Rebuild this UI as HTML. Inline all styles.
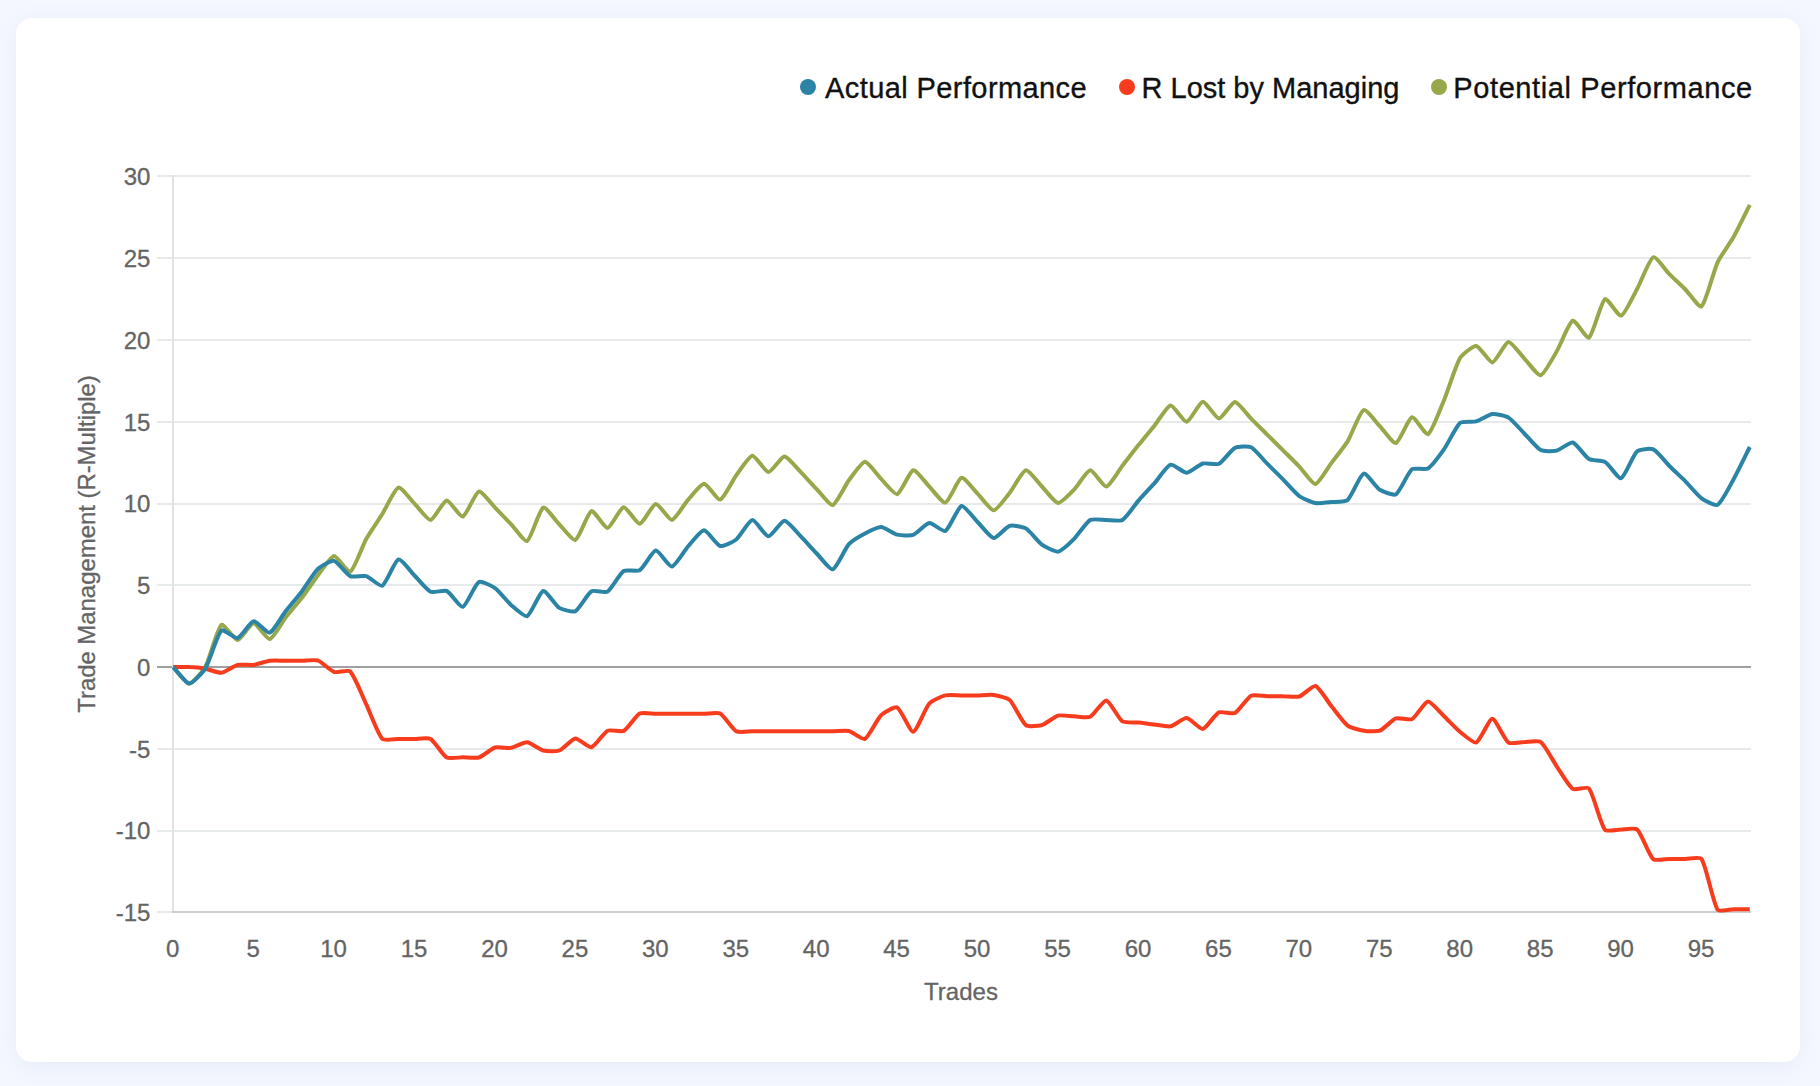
<!DOCTYPE html>
<html><head><meta charset="utf-8"><title>Trade Management</title>
<style>
html,body{margin:0;padding:0}
body{width:1820px;height:1086px;overflow:hidden;background:#f4f7fe;font-family:"Liberation Sans",sans-serif;position:relative}
.card{position:absolute;left:16px;top:18px;width:1784px;height:1044px;background:#fff;border-radius:16px;box-shadow:0 5px 22px rgba(115,130,185,0.09)}
svg{position:absolute;left:0;top:0}
.tick text{font-size:24px;fill:#646464;stroke:#646464;stroke-width:0.3px}
.legend{position:absolute;top:68px;height:40px;line-height:40px;font-size:29px;color:#111;-webkit-text-stroke:0.35px #111;white-space:nowrap}
.dot{position:absolute;top:79px;width:16px;height:16px;border-radius:50%}
</style></head><body>
<div class="card"></div>
<span class="dot" style="left:800px;background:#2b83a6"></span>
<span class="legend" id="l1" style="left:825px;letter-spacing:0.41px">Actual Performance</span>
<span class="dot" style="left:1119px;background:#f63c1c"></span>
<span class="legend" id="l2" style="left:1141.5px;letter-spacing:0px">R Lost by Managing</span>
<span class="dot" style="left:1431px;background:#97a84a"></span>
<span class="legend" id="l3" style="left:1453.3px;letter-spacing:0.6px">Potential Performance</span>
<svg width="1820" height="1086" viewBox="0 0 1820 1086">
<g>
<rect x="157" y="175" width="1594" height="2" fill="#e6eaea"/><rect x="157" y="257" width="1594" height="2" fill="#e6eaea"/><rect x="157" y="339" width="1594" height="2" fill="#e6eaea"/><rect x="157" y="421" width="1594" height="2" fill="#e6eaea"/><rect x="157" y="503" width="1594" height="2" fill="#e6eaea"/><rect x="157" y="584" width="1594" height="2" fill="#e6eaea"/><rect x="157" y="666" width="1594" height="2" fill="#a0a0a0"/><rect x="157" y="748" width="1594" height="2" fill="#e6eaea"/><rect x="157" y="830" width="1594" height="2" fill="#e6eaea"/><rect x="157" y="911" width="1594" height="2" fill="#e6eaea"/>
<rect x="172" y="175" width="2" height="736" fill="#e2e2e2"/>
<rect x="172" y="911" width="1579" height="2" fill="#cbcfcf"/>
</g>
<g class="tick"><text x="150.4" y="185" text-anchor="end">30</text><text x="150.4" y="267" text-anchor="end">25</text><text x="150.4" y="349" text-anchor="end">20</text><text x="150.4" y="431" text-anchor="end">15</text><text x="150.4" y="512" text-anchor="end">10</text><text x="150.4" y="594" text-anchor="end">5</text><text x="150.4" y="676" text-anchor="end">0</text><text x="150.4" y="758" text-anchor="end">-5</text><text x="150.4" y="839" text-anchor="end">-10</text><text x="150.4" y="921" text-anchor="end">-15</text><text x="172.7" y="957" text-anchor="middle">0</text><text x="253.1" y="957" text-anchor="middle">5</text><text x="333.6" y="957" text-anchor="middle">10</text><text x="414.0" y="957" text-anchor="middle">15</text><text x="494.5" y="957" text-anchor="middle">20</text><text x="574.9" y="957" text-anchor="middle">25</text><text x="655.3" y="957" text-anchor="middle">30</text><text x="735.8" y="957" text-anchor="middle">35</text><text x="816.2" y="957" text-anchor="middle">40</text><text x="896.6" y="957" text-anchor="middle">45</text><text x="977.1" y="957" text-anchor="middle">50</text><text x="1057.5" y="957" text-anchor="middle">55</text><text x="1138.0" y="957" text-anchor="middle">60</text><text x="1218.4" y="957" text-anchor="middle">65</text><text x="1298.8" y="957" text-anchor="middle">70</text><text x="1379.3" y="957" text-anchor="middle">75</text><text x="1459.7" y="957" text-anchor="middle">80</text><text x="1540.2" y="957" text-anchor="middle">85</text><text x="1620.6" y="957" text-anchor="middle">90</text><text x="1701.0" y="957" text-anchor="middle">95</text>
<text x="961" y="1000" text-anchor="middle" id="xt">Trades</text>
<text transform="translate(95,544) rotate(-90)" text-anchor="middle" id="yt" style="letter-spacing:-0.06px">Trade Management (R-Multiple)</text>
</g>
<g fill="none" stroke-width="4" stroke-linejoin="round" stroke-linecap="butt">
<path d="M173.2 667.1C176.4 670.4 186.1 683.6 189.3 683.6C192.5 683.6 203.2 670.8 205.4 666.7C209.6 659.0 217.2 628.4 221.5 624.8C223.6 623.0 234.4 640.2 237.6 640.1C240.8 639.9 250.4 623.4 253.6 623.3C256.8 623.2 266.8 639.6 269.7 639.1C273.2 638.4 282.5 621.6 285.8 617.3C288.9 613.4 298.8 601.8 301.9 597.8C305.3 593.4 314.6 579.6 318.0 575.2C321.0 571.3 330.7 556.4 334.1 556.0C337.1 555.7 347.7 573.0 350.2 571.7C354.2 569.6 362.7 545.2 366.3 538.8C369.1 533.7 379.2 519.0 382.3 514.0C385.6 508.8 394.7 488.8 398.4 487.6C401.2 486.8 411.3 500.5 414.5 503.7C417.8 506.9 427.5 520.3 430.6 520.0C434.0 519.7 443.3 500.9 446.7 500.5C449.7 500.2 460.0 517.3 462.8 516.5C466.4 515.5 475.2 492.6 478.9 491.6C481.7 490.8 491.8 504.4 495.0 507.6C498.2 510.9 507.8 520.8 511.0 524.1C514.3 527.5 524.6 542.2 527.1 541.0C531.1 538.9 539.3 509.6 543.2 507.6C545.7 506.3 556.0 521.1 559.3 524.4C562.5 527.6 572.8 541.0 575.4 539.9C579.2 538.3 587.7 512.5 591.5 511.1C594.1 510.1 604.5 528.3 607.6 528.0C611.0 527.5 620.2 507.6 623.7 507.2C626.7 506.8 636.7 524.1 639.7 523.8C643.1 523.5 652.4 504.4 655.8 504.0C658.9 503.6 668.9 520.3 671.9 519.9C675.3 519.5 684.6 503.7 688.0 499.9C691.0 496.5 700.9 483.8 704.1 483.7C707.3 483.7 717.4 500.3 720.2 499.6C723.8 498.6 732.8 479.9 736.3 475.2C739.3 471.2 749.0 456.2 752.4 455.8C755.4 455.5 765.2 472.0 768.4 472.0C771.6 472.1 781.3 456.4 784.5 456.4C787.7 456.4 797.5 468.8 800.6 471.9C803.9 475.3 813.4 485.8 816.7 489.2C819.9 492.4 830.0 505.8 832.8 505.0C836.4 504.0 845.4 485.0 848.9 480.3C851.8 476.4 861.7 461.9 865.0 461.7C868.1 461.6 877.7 475.6 881.1 478.9C884.2 482.0 894.3 494.9 897.1 494.2C900.8 493.2 909.7 471.2 913.2 470.3C916.1 469.6 926.1 483.3 929.3 486.6C932.5 489.8 942.6 503.4 945.4 502.6C949.1 501.6 957.9 478.8 961.5 477.8C964.3 477.0 974.4 490.5 977.6 493.7C980.8 497.0 990.5 510.4 993.7 510.3C996.9 510.2 1006.8 496.4 1009.8 492.7C1013.2 488.4 1022.3 471.0 1025.9 470.3C1028.8 469.7 1038.7 483.2 1041.9 486.5C1045.2 489.8 1054.7 502.7 1058.0 503.0C1061.1 503.3 1071.2 492.6 1074.1 489.6C1077.6 486.0 1086.8 470.6 1090.2 470.3C1093.3 470.0 1103.3 487.0 1106.3 486.6C1109.7 486.1 1119.1 469.9 1122.4 465.7C1125.6 461.6 1135.2 449.2 1138.5 445.1C1141.6 441.2 1151.4 429.4 1154.6 425.5C1157.8 421.5 1167.2 405.9 1170.6 405.5C1173.7 405.2 1183.7 422.2 1186.7 421.8C1190.1 421.4 1199.4 402.1 1202.8 401.7C1205.9 401.4 1215.7 418.4 1218.9 418.5C1222.1 418.5 1231.8 401.9 1235.0 401.9C1238.2 402.0 1247.8 415.3 1251.1 418.6C1254.3 421.9 1264.0 431.4 1267.2 434.6C1270.4 437.8 1280.0 447.4 1283.3 450.6C1286.5 453.8 1296.2 463.4 1299.3 466.6C1302.6 470.0 1312.4 484.4 1315.4 484.0C1318.8 483.7 1328.3 467.1 1331.5 462.9C1334.8 458.6 1344.8 445.9 1347.6 441.4C1351.3 435.4 1359.8 411.8 1363.7 410.0C1366.2 408.8 1376.6 422.9 1379.8 426.1C1383.0 429.5 1393.1 443.8 1395.9 443.0C1399.5 442.0 1408.3 418.3 1412.0 417.3C1414.8 416.5 1425.6 435.5 1428.0 434.2C1432.0 432.0 1441.2 406.9 1444.1 399.9C1447.6 391.6 1455.8 365.3 1460.2 357.8C1462.2 354.5 1473.3 345.5 1476.3 345.9C1479.8 346.4 1489.4 362.7 1492.4 362.4C1495.8 361.9 1505.1 342.4 1508.5 342.0C1511.5 341.7 1521.3 355.5 1524.6 358.8C1527.8 362.1 1537.8 375.9 1540.7 375.2C1544.2 374.4 1553.8 356.3 1556.7 351.3C1560.3 345.4 1569.0 322.3 1572.8 320.7C1575.4 319.6 1586.6 339.2 1588.9 337.7C1593.0 334.9 1600.9 302.0 1605.0 299.1C1607.3 297.6 1618.4 316.6 1621.1 315.7C1624.8 314.6 1634.2 294.3 1637.2 288.8C1640.6 282.6 1649.4 259.0 1653.3 257.2C1655.8 256.0 1666.1 270.8 1669.4 274.1C1672.5 277.3 1682.3 286.3 1685.4 289.5C1688.7 292.8 1699.4 308.2 1701.5 306.4C1705.8 302.8 1713.7 270.8 1717.6 262.3C1720.1 256.8 1730.8 242.0 1733.7 236.8C1737.2 230.5 1746.6 211.2 1749.8 204.8" stroke="#97a84a"/>
<path d="M173.2 667.1C176.4 667.1 186.1 666.9 189.3 667.1C192.5 667.2 202.2 668.1 205.4 668.7C208.6 669.3 218.4 673.2 221.5 672.8C224.8 672.4 234.2 665.8 237.6 664.9C240.6 664.2 250.5 665.4 253.6 664.9C256.9 664.5 266.5 661.1 269.7 660.7C272.9 660.3 282.6 660.7 285.8 660.7C289.0 660.7 298.7 660.7 301.9 660.7C305.1 660.7 315.1 659.5 318.0 660.5C321.5 661.8 330.5 670.8 334.1 672.0C337.0 673.0 348.2 669.5 350.2 671.5C354.6 676.0 363.1 697.8 366.3 704.4C369.5 711.2 377.8 734.0 382.3 738.9C384.3 740.9 395.2 738.9 398.4 738.9C401.6 738.9 411.3 738.9 414.5 738.9C417.7 738.9 428.1 737.4 430.6 738.9C434.5 741.1 442.8 755.3 446.7 757.5C449.2 759.0 459.6 757.3 462.8 757.3C466.0 757.3 475.9 758.4 478.9 757.5C482.3 756.5 491.5 748.6 495.0 747.5C497.9 746.6 507.9 748.4 511.0 747.9C514.4 747.3 524.0 742.0 527.1 742.3C530.4 742.6 539.8 749.6 543.2 750.5C546.3 751.3 556.4 751.6 559.3 750.5C562.9 749.1 572.0 738.7 575.4 738.4C578.5 738.1 588.6 747.9 591.5 747.2C595.1 746.4 603.8 732.6 607.6 730.7C610.2 729.3 621.1 732.2 623.7 730.9C627.5 728.8 635.9 715.6 639.7 713.5C642.4 712.1 652.6 713.7 655.8 713.7C659.1 713.7 668.7 713.7 671.9 713.7C675.1 713.7 684.8 713.7 688.0 713.7C691.2 713.7 700.9 713.7 704.1 713.7C707.3 713.7 717.6 712.1 720.2 713.5C724.0 715.6 732.4 729.2 736.3 731.3C738.9 732.8 749.1 731.3 752.4 731.3C755.6 731.3 765.2 731.3 768.4 731.3C771.7 731.3 781.3 731.3 784.5 731.3C787.8 731.3 797.4 731.3 800.6 731.3C803.8 731.3 813.5 731.3 816.7 731.3C819.9 731.3 829.6 731.4 832.8 731.3C836.0 731.3 845.8 730.3 848.9 731.0C852.3 731.8 862.5 740.1 865.0 738.9C868.9 736.9 877.1 719.0 881.1 715.2C883.5 712.7 894.7 706.2 897.1 707.5C901.1 709.5 910.2 732.0 913.2 731.7C916.6 731.3 925.2 708.2 929.3 703.5C931.6 700.9 942.0 696.2 945.4 695.4C948.4 694.6 958.3 695.4 961.5 695.4C964.7 695.4 974.4 695.4 977.6 695.4C980.8 695.3 990.5 694.4 993.7 694.9C997.0 695.4 1007.4 697.9 1009.8 700.1C1013.9 704.0 1021.7 721.9 1025.9 725.1C1028.1 726.9 1039.0 726.0 1041.9 725.1C1045.4 724.1 1054.6 716.6 1058.0 715.6C1061.0 714.8 1070.9 716.2 1074.1 716.3C1077.3 716.4 1087.5 718.1 1090.2 716.8C1094.0 714.9 1103.3 700.0 1106.3 700.4C1109.7 700.9 1118.4 718.6 1122.4 721.4C1124.8 723.0 1135.3 722.2 1138.5 722.5C1141.7 722.8 1151.3 724.3 1154.6 724.6C1157.8 725.0 1167.6 726.9 1170.6 726.3C1174.0 725.6 1183.6 717.8 1186.7 718.1C1190.1 718.4 1199.9 729.4 1202.8 728.9C1206.3 728.3 1215.1 714.2 1218.9 712.4C1221.5 711.1 1232.4 714.4 1235.0 713.0C1238.8 711.0 1247.3 697.7 1251.1 695.7C1253.7 694.3 1263.9 696.1 1267.2 696.2C1270.4 696.2 1280.0 696.1 1283.3 696.2C1286.5 696.2 1296.4 697.4 1299.3 696.5C1302.8 695.4 1312.7 685.2 1315.4 686.0C1319.1 687.2 1328.3 702.3 1331.5 706.3C1334.7 710.2 1343.8 722.7 1347.6 725.6C1350.2 727.6 1360.4 730.2 1363.7 730.7C1366.8 731.2 1376.9 731.8 1379.8 730.7C1383.4 729.3 1392.3 719.7 1395.9 718.4C1398.7 717.4 1409.4 720.4 1412.0 719.1C1415.8 717.0 1424.7 701.7 1428.0 701.4C1431.1 701.1 1441.0 713.3 1444.1 716.3C1447.4 719.4 1456.7 729.2 1460.2 732.0C1463.2 734.4 1473.7 743.5 1476.3 742.5C1480.2 740.9 1489.2 718.7 1492.4 718.8C1495.6 718.8 1504.4 739.7 1508.5 742.6C1510.8 744.3 1521.4 742.0 1524.6 742.0C1527.8 741.9 1538.4 740.2 1540.7 742.0C1544.8 745.1 1553.4 761.5 1556.7 766.3C1559.9 770.9 1568.8 786.1 1572.8 788.9C1575.2 790.5 1587.2 786.2 1588.9 788.4C1593.6 794.4 1600.3 823.8 1605.0 829.8C1606.7 832.0 1617.9 829.5 1621.1 829.5C1624.3 829.4 1635.1 827.6 1637.2 829.5C1641.5 833.5 1648.9 855.3 1653.3 859.2C1655.3 861.1 1666.1 859.0 1669.4 858.9C1672.6 858.9 1682.2 858.9 1685.4 858.9C1688.7 858.9 1700.0 856.6 1701.5 858.9C1706.5 866.7 1712.7 901.9 1717.6 909.6C1719.1 912.0 1730.5 909.3 1733.7 909.3C1736.9 909.3 1746.6 909.3 1749.8 909.3" stroke="#f63c1c"/>
<path d="M173.2 667.1C176.4 670.4 186.0 683.5 189.3 683.6C192.4 683.7 203.1 672.1 205.4 668.4C209.6 661.5 217.0 634.8 221.5 630.5C223.4 628.7 234.8 638.8 237.6 638.0C241.2 636.9 250.2 621.8 253.6 621.2C256.6 620.7 267.0 633.6 269.7 632.7C273.4 631.5 282.5 615.2 285.8 611.0C288.9 607.0 298.8 595.4 301.9 591.4C305.3 587.0 314.1 572.4 318.0 568.7C320.5 566.3 331.2 560.3 334.1 560.9C337.6 561.7 346.4 574.4 350.2 576.1C352.9 577.4 363.3 575.2 366.3 576.1C369.7 577.2 379.9 587.0 382.3 585.8C386.3 583.7 394.7 560.6 398.4 559.4C401.2 558.6 411.3 572.3 414.5 575.5C417.8 578.7 426.8 590.0 430.6 591.8C433.3 593.1 444.0 589.7 446.7 590.9C450.4 592.7 460.0 607.6 462.8 606.8C466.4 605.8 474.8 584.4 478.9 582.0C481.2 580.6 492.2 586.1 495.0 588.1C498.7 590.7 507.6 601.9 511.0 604.9C514.0 607.5 524.6 617.3 527.1 616.2C531.0 614.5 539.6 592.0 543.2 591.0C546.0 590.3 555.5 605.5 559.3 607.9C562.0 609.5 572.9 612.5 575.4 611.2C579.3 609.2 587.5 593.7 591.5 591.3C594.0 589.7 605.1 593.1 607.6 591.6C611.6 589.1 619.7 573.6 623.7 571.0C626.1 569.4 637.2 571.8 639.7 570.2C643.7 567.8 652.4 551.0 655.8 550.6C658.9 550.3 668.9 566.9 671.9 566.6C675.3 566.1 684.6 550.4 688.0 546.5C691.0 543.1 700.9 530.4 704.1 530.3C707.3 530.3 716.6 545.0 720.2 546.0C723.0 546.8 733.6 541.6 736.3 539.5C740.1 536.4 749.0 520.4 752.4 520.1C755.4 519.8 765.2 536.2 768.4 536.3C771.6 536.4 781.3 520.7 784.5 520.7C787.7 520.7 797.5 533.0 800.6 536.2C803.9 539.6 813.4 550.1 816.7 553.5C819.9 556.7 830.0 570.1 832.8 569.3C836.5 568.2 845.0 548.6 848.9 544.2C851.4 541.4 861.6 535.3 865.0 533.5C868.0 531.9 877.9 526.9 881.1 527.0C884.3 527.1 893.8 533.8 897.1 534.6C900.2 535.3 910.4 535.9 913.2 534.9C916.8 533.6 925.9 523.5 929.3 523.1C932.4 522.7 943.0 532.2 945.4 530.9C949.4 528.8 957.9 507.1 961.5 506.0C964.3 505.3 974.4 518.8 977.6 522.0C980.8 525.2 990.3 537.7 993.7 538.1C996.7 538.5 1006.2 526.8 1009.8 525.8C1012.6 524.9 1023.2 526.8 1025.9 528.4C1029.6 530.6 1038.3 541.9 1041.9 544.6C1044.7 546.6 1055.1 552.1 1058.0 551.6C1061.5 551.0 1071.2 541.7 1074.1 538.8C1077.6 535.4 1086.3 522.3 1090.2 520.0C1092.7 518.5 1103.1 519.9 1106.3 519.9C1109.5 519.9 1119.9 521.5 1122.4 520.0C1126.3 517.7 1135.2 504.4 1138.5 500.6C1141.6 497.0 1151.4 486.6 1154.6 483.1C1157.8 479.4 1166.9 465.9 1170.6 464.7C1173.4 463.9 1183.6 473.0 1186.7 472.8C1190.0 472.7 1199.4 464.5 1202.8 463.5C1205.8 462.7 1216.2 465.1 1218.9 463.8C1222.7 461.9 1231.2 449.8 1235.0 447.9C1237.7 446.5 1248.4 445.9 1251.1 447.2C1254.9 449.1 1263.9 460.4 1267.2 463.7C1270.4 466.9 1280.1 476.5 1283.3 479.7C1286.5 483.0 1295.7 493.4 1299.3 496.1C1302.1 498.1 1312.1 502.4 1315.4 503.0C1318.5 503.6 1328.3 502.4 1331.5 502.1C1334.7 501.8 1345.4 501.9 1347.6 499.9C1351.8 496.2 1360.0 474.7 1363.7 473.6C1366.4 472.7 1376.1 487.4 1379.8 489.8C1382.5 491.5 1393.6 495.8 1395.9 494.4C1400.0 491.7 1407.8 472.7 1412.0 469.3C1414.2 467.5 1425.5 470.1 1428.0 468.5C1432.0 466.0 1441.2 453.2 1444.1 449.1C1447.7 444.1 1456.0 426.4 1460.2 422.7C1462.4 420.8 1473.2 422.2 1476.3 421.3C1479.7 420.4 1489.1 414.4 1492.4 414.0C1495.5 413.7 1505.8 415.9 1508.5 417.6C1512.2 419.9 1521.4 430.5 1524.6 433.8C1527.8 437.0 1536.9 448.1 1540.7 450.1C1543.3 451.5 1553.7 451.3 1556.7 450.6C1560.1 449.8 1570.0 441.8 1572.8 442.5C1576.4 443.5 1585.2 456.8 1588.9 459.0C1591.6 460.6 1602.3 460.3 1605.0 461.9C1608.8 464.1 1618.4 479.1 1621.1 478.2C1624.8 476.9 1632.9 455.1 1637.2 451.3C1639.4 449.3 1650.6 448.2 1653.3 449.4C1657.1 451.1 1666.1 462.7 1669.4 466.0C1672.5 469.1 1682.3 478.2 1685.4 481.3C1688.7 484.7 1697.8 495.6 1701.5 498.3C1704.3 500.3 1715.3 506.2 1717.6 504.8C1721.7 502.4 1730.8 484.3 1733.7 479.0C1737.2 472.7 1746.6 453.4 1749.8 447.0" stroke="#2b83a6"/>
</g>
</svg>
</body></html>
